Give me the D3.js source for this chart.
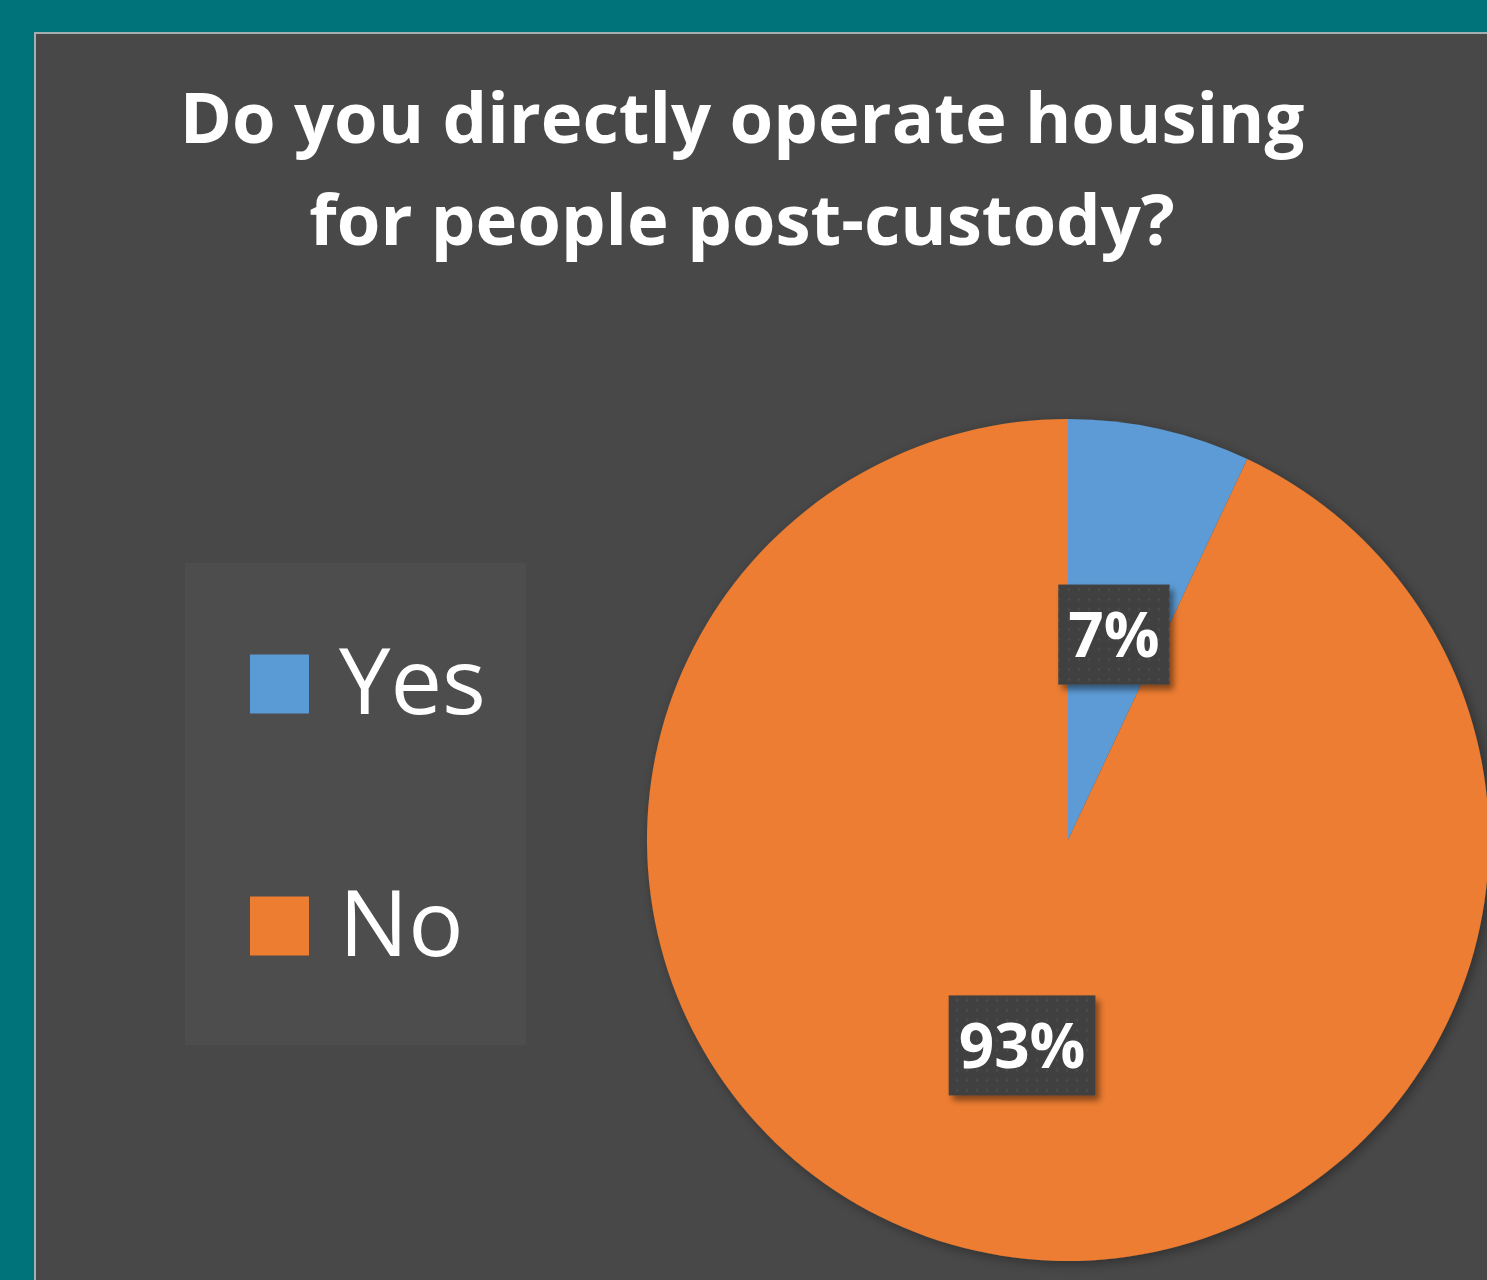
<!DOCTYPE html>
<html>
<head>
<meta charset="utf-8">
<script src="https://cdn.jsdelivr.net/npm/d3@7"></script>
<style>
  html, body { margin: 0; padding: 0; background: #00727a; overflow: hidden; }
  svg { display: block; }
</style>
</head>
<body>
<svg id="chart" width="1487" height="1280"></svg>
<script>
const categories = ["Yes", "No"];
const values = [7, 93];
const colors = ["#5b9bd5", "#ed7d31"];
const titleLines = ["Do you directly operate housing", "for people post-custody?"];

const W = 1487, H = 1280;
const svg = d3.select("#chart");
const defs = svg.append("defs");

// soft shadow for pie and labels
const pieShadow = defs.append("filter").attr("id", "pieShadow")
  .attr("x", "-10%").attr("y", "-10%").attr("width", "120%").attr("height", "120%");
pieShadow.append("feDropShadow").attr("dx", 3).attr("dy", 3).attr("stdDeviation", 6)
  .attr("flood-color", "#000").attr("flood-opacity", 0.35);

const labShadow = defs.append("filter").attr("id", "labShadow")
  .attr("x", "-20%").attr("y", "-20%").attr("width", "150%").attr("height", "150%");
labShadow.append("feDropShadow").attr("dx", 4).attr("dy", 5).attr("stdDeviation", 3)
  .attr("flood-color", "#000").attr("flood-opacity", 0.45);

const dots = defs.append("pattern").attr("id", "dots")
  .attr("width", 10).attr("height", 10).attr("patternUnits", "userSpaceOnUse");
dots.append("rect").attr("width", 10).attr("height", 10).attr("fill", "#3f3f3f");
dots.append("circle").attr("cx", 5).attr("cy", 5).attr("r", 1.4).attr("fill", "#4c4c4c");

// panel
svg.append("rect").attr("x", 35).attr("y", 33).attr("width", W).attr("height", H)
  .attr("fill", "#484848").attr("stroke", "#a3aeb0").attr("stroke-width", 2);

// title, sized so the first line spans the same width as the original
const title = svg.append("g");
const titleY = [143, 245];
title.selectAll("text").data(titleLines).enter().append("text")
  .attr("x", 742).attr("y", (d, i) => titleY[i])
  .attr("text-anchor", "middle")
  .attr("font-family", "'Open Sans', sans-serif")
  .attr("font-weight", 700)
  .attr("font-size", 76)
  .attr("fill", "#ffffff")
  .text(d => d);
const len = title.select("text").node().getComputedTextLength();
title.selectAll("text").attr("font-size", 76 * 1125 / len);

// legend
const legend = svg.append("g");
legend.append("rect").attr("x", 185).attr("y", 563).attr("width", 341).attr("height", 482)
  .attr("fill", "#4d4d4d");
const ly = d3.scalePoint().domain(categories).range([684, 926]);
const item = legend.selectAll("g.item").data(categories).enter().append("g").attr("class", "item");
item.append("rect")
  .attr("x", 250).attr("y", d => ly(d) - 29.5)
  .attr("width", 59).attr("height", 59)
  .attr("fill", (d, i) => colors[i]);
item.append("text")
  .attr("x", 339).attr("y", d => ly(d) + 30)
  .attr("font-family", "'Open Sans', sans-serif")
  .attr("font-size", 92)
  .attr("fill", "#ffffff")
  .text(d => d);

// pie
const cx = 1068, cy = 840, r = 421;
const pie = d3.pie().sort(null).value(d => d);
const arcs = pie(values);
const arc = d3.arc().innerRadius(0).outerRadius(r);

const pg = svg.append("g").attr("transform", `translate(${cx},${cy})`);
pg.append("g").attr("filter", "url(#pieShadow)")
  .selectAll("path").data(arcs).enter().append("path")
  .attr("d", arc)
  .attr("fill", (d, i) => colors[i]);

// data labels
const fmt = v => v + "%";
const lab = pg.selectAll("g.lab").data(arcs).enter().append("g").attr("class", "lab")
  .attr("transform", d => {
    const [x, y] = arc.centroid(d);
    return `translate(${x},${y})`;
  });
lab.each(function(d) {
  const g = d3.select(this);
  const box = g.append("rect").attr("fill", "url(#dots)").attr("filter", "url(#labShadow)");
  const t = g.append("text")
    .attr("text-anchor", "middle")
    .attr("dy", "0.36em")
    .attr("font-family", "'Open Sans', sans-serif")
    .attr("font-weight", 700)
    .attr("font-size", 62)
    .attr("fill", "#ffffff")
    .text(fmt(d.data));
  const w = t.node().getComputedTextLength() + 20;
  box.attr("x", -w / 2).attr("y", -50).attr("width", w).attr("height", 100);
});
</script>
</body>
</html>
